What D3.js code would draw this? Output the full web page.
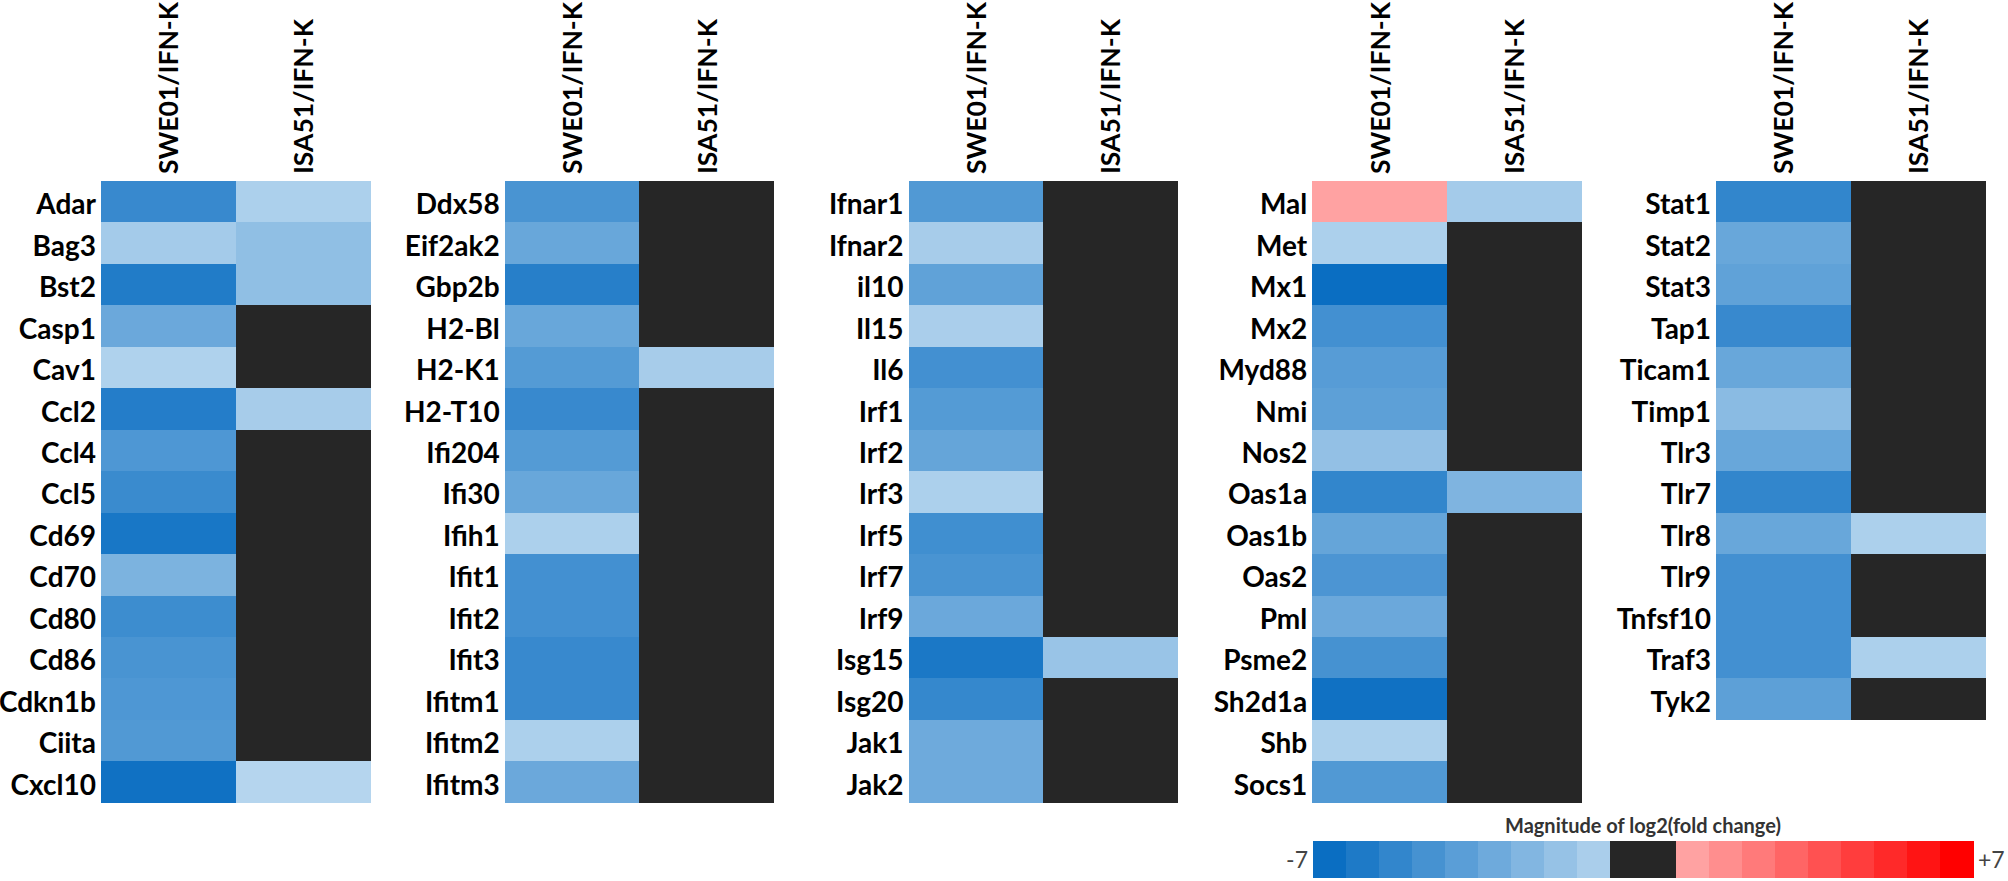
<!DOCTYPE html>
<html>
<head>
<meta charset="utf-8">
<script src="https://cdn.jsdelivr.net/npm/d3@7"></script>
<style>
  body { margin: 0; background: #fff; }
  text { font-family: Lato, "Open Sans", sans-serif; }
</style>
</head>
<body>
<div id="chart"></div>
<script>
// columns (comparisons)
var columns = ["SWE01/IFN-K", "ISA51/IFN-K"];

// genes per panel, log2 fold change (null = not significant, drawn black)
var genesA = ["Adar", "Bag3", "Bst2", "Casp1", "Cav1", "Ccl2", "Ccl4", "Ccl5", "Cd69", "Cd70", "Cd80", "Cd86", "Cdkn1b", "Ciita", "Cxcl10"];
var sweA = [-5.4, -1.6, -6.2, -3.6, -1.2, -6.1, -4.6, -5.3, -6.5, -3.0, -5.2, -4.8, -4.6, -4.5, -6.8];
var isaA = [-1.3, -2.3, -2.3, null, null, -1.5, null, null, null, null, null, null, null, null, -1.0];

var genesB = ["Ddx58", "Eif2ak2", "Gbp2b", "H2-Bl", "H2-K1", "H2-T10", "Ifi204", "Ifi30", "Ifih1", "Ifit1", "Ifit2", "Ifit3", "Ifitm1", "Ifitm2", "Ifitm3"];
var sweB = [-4.8, -3.7, -6.0, -3.7, -4.4, -5.4, -4.4, -3.7, -1.3, -5.0, -5.0, -5.4, -5.4, -1.3, -3.6];
var isaB = [null, null, null, null, -1.5, null, null, null, null, null, null, null, null, null, null];

var genesC = ["Ifnar1", "Ifnar2", "il10", "Il15", "Il6", "Irf1", "Irf2", "Irf3", "Irf5", "Irf7", "Irf9", "Isg15", "Isg20", "Jak1", "Jak2"];
var sweC = [-4.5, -1.5, -4.0, -1.4, -5.0, -4.4, -3.8, -1.3, -5.1, -4.8, -3.6, -6.4, -5.5, -3.5, -3.5];
var isaC = [null, null, null, null, null, null, null, null, null, null, null, -2.0, null, null, null];

var genesD = ["Mal", "Met", "Mx1", "Mx2", "Myd88", "Nmi", "Nos2", "Oas1a", "Oas1b", "Oas2", "Pml", "Psme2", "Sh2d1a", "Shb", "Socs1"];
var sweD = [1.0, -1.3, -7.0, -5.0, -4.3, -4.1, -2.2, -5.6, -3.8, -4.7, -3.6, -4.9, -6.8, -1.3, -4.5];
var isaD = [-1.6, null, null, null, null, null, null, -2.9, null, null, null, null, null, null, null];

var genesE = ["Stat1", "Stat2", "Stat3", "Tap1", "Ticam1", "Timp1", "Tlr3", "Tlr7", "Tlr8", "Tlr9", "Tnfsf10", "Traf3", "Tyk2"];
var sweE = [-5.6, -3.7, -4.0, -5.4, -3.7, -2.5, -3.7, -5.6, -3.7, -5.0, -5.0, -5.0, -4.1];
var isaE = [null, null, null, null, null, null, null, null, -1.3, null, null, -1.3, null];

// legend steps
var legendBlue = [-7, -6.3, -5.6, -4.9, -4.2, -3.5, -2.8, -2.1, -1.4];
var legendRed = [1, 1.75, 2.5, 3.25, 4, 4.75, 5.5, 6.25, 7];

var svgWidth = 2008;
var svgHeight = 881;
var rowH = 41.45;
var top0 = 181;

var svg = d3.select("#chart")
  .append("svg")
  .attr("width", svgWidth)
  .attr("height", svgHeight);

var blue = d3.scaleLinear().domain([-7, -1]).range(["#0a6ec2", "#b5d5ee"]).clamp(true);
var red = d3.scaleLinear().domain([1, 7]).range(["#ffa2a2", "#ff0000"]).clamp(true);
function fill(v) {
  if (v === null) return "#262626";
  return v < 0 ? blue(v) : red(v);
}

var panels = [
  {genes: genesA, vals: [sweA, isaA]},
  {genes: genesB, vals: [sweB, isaB]},
  {genes: genesC, vals: [sweC, isaC]},
  {genes: genesD, vals: [sweD, isaD]},
  {genes: genesE, vals: [sweE, isaE]}
];

var panelX = d3.scaleLinear().domain([0, 4]).range([101, 1716]);
var xScale = d3.scaleBand().domain(columns).range([0, 269]);

panels.forEach(function(p, i) {
  var g = svg.append("g")
    .attr("transform", `translate(${panelX(i)}, 0)`);

  var yScale = d3.scaleBand()
    .domain(p.genes)
    .range([top0, top0 + p.genes.length * rowH]);

  var cells = [];
  p.genes.forEach(function(gene, r) {
    columns.forEach(function(c, k) {
      cells.push({gene: gene, col: c, v: p.vals[k][r]});
    });
  });

  g.selectAll("rect.cell")
    .data(cells)
    .enter()
    .append("rect")
    .attr("class", "cell")
    .attr("x", d => xScale(d.col))
    .attr("y", d => yScale(d.gene))
    .attr("width", xScale.bandwidth() + 0.5)
    .attr("height", yScale.bandwidth() + 0.5)
    .attr("shape-rendering", "crispEdges")
    .attr("fill", d => fill(d.v));

  // gene labels
  var yAxis = d3.axisLeft(yScale).tickSize(0).tickPadding(5);
  var ya = g.append("g").call(yAxis);
  ya.select(".domain").remove();
  ya.selectAll("text")
    .attr("dy", "0.45em")
    .style("font-family", "Lato, 'Open Sans', sans-serif")
    .style("font-size", "28px")
    .style("font-weight", "bold")
    .attr("fill", "#000");

  // column headers
  g.selectAll("text.hdr")
    .data(columns)
    .enter()
    .append("text")
    .attr("class", "hdr")
    .attr("transform", d => `translate(${xScale(d) + xScale.bandwidth() / 2 + 10}, 174) rotate(-90)`)
    .attr("text-anchor", "start")
    .style("font-size", "26.5px")
    .style("font-weight", "bold")
    .text(d => d);
});

// legend
var legendKeys = legendBlue.map(v => ({v: v, w: 1}))
  .concat([{v: null, w: 2}])
  .concat(legendRed.map(v => ({v: v, w: 1})));
var slotStart = [];
var acc = 0;
legendKeys.forEach(function(k) { slotStart.push(acc); acc += k.w; });

var lx = d3.scaleLinear().domain([0, acc]).range([1313, 1973]);

var legend = svg.append("g");
legend.selectAll("rect")
  .data(legendKeys)
  .enter()
  .append("rect")
  .attr("x", (d, i) => lx(slotStart[i]))
  .attr("y", 841)
  .attr("width", (d, i) => lx(slotStart[i] + d.w) - lx(slotStart[i]) + 0.5)
  .attr("height", 37)
  .attr("shape-rendering", "crispEdges")
  .attr("fill", d => fill(d.v));

legend.append("text")
  .attr("x", (lx(0) + lx(acc)) / 2)
  .attr("y", 833)
  .attr("text-anchor", "middle")
  .style("font-size", "20px")
  .style("font-weight", "bold")
  .attr("fill", "#333")
  .text("Magnitude of log2(fold change)");

legend.append("text")
  .attr("x", lx(0) - 5)
  .attr("y", 868)
  .attr("text-anchor", "end")
  .style("font-size", "23px")
  .attr("fill", "#444")
  .text("-7");

legend.append("text")
  .attr("x", lx(acc) + 5)
  .attr("y", 868)
  .attr("text-anchor", "start")
  .style("font-size", "23px")
  .attr("fill", "#444")
  .text("+7");
</script>
</body>
</html>
